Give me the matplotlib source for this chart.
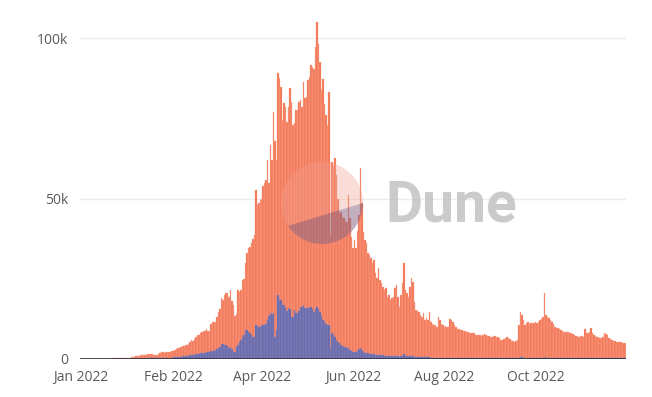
import numpy as np
import matplotlib.pyplot as plt
from matplotlib.patches import Circle, Polygon

plt.rcParams['font.family'] = ['Open Sans', 'DejaVu Sans']

# daily values in thousands, Dec 2021 .. Nov 2022
dec_total = [0.05, 0.05, 0.05, 0.05, 0.05, 0.05, 0.05, 0.05, 0.06, 0.06,
             0.07, 0.07, 0.08, 0.08, 0.08, 0.09, 0.09, 0.1, 0.1, 0.1,
             0.15, 0.15, 0.2, 0.2, 0.2, 0.25, 0.25, 0.25, 0.3, 0.3, 0.3]
jan_total = [0.35, 0.4, 0.45, 0.5, 0.6, 0.7, 0.9, 1.0, 1.0, 1.1,
             1.2, 1.2, 1.3, 1.4, 1.5, 1.5, 1.5, 1.5, 1.4, 1.4,
             1.4, 1.5, 2.0, 2.1, 2.1, 2.0, 2.1, 2.1, 2.2, 2.2, 2.4]
feb_total = [2.5, 2.8, 3.0, 3.3, 3.5, 3.8, 4.0, 4.2, 4.4, 4.5,
             4.6, 5.2, 5.9, 5.6, 6.2, 6.8, 7.4, 7.6, 8.0, 8.5,
             8.6, 8.7, 9.5, 8.8, 8.7, 11.0, 11.5, 11.6]
mar_total = [11.6, 13.0, 14.8, 15.5, 19.0, 18.5, 20.0, 20.5, 20.7, 19.4,
             21.5, 18.0, 16.8, 13.5, 14.0, 21.5, 21.0, 21.5, 24.6, 25.0,
             30.0, 33.0, 34.6, 35.0, 36.0, 37.5, 38.6, 52.6, 48.0, 48.5, 49.5]
apr_total = [50.0, 54.0, 55.0, 55.8, 62.0, 55.0, 66.7, 62.0, 77.0, 68.0,
             62.0, 89.0, 87.5, 84.8, 74.5, 79.7, 78.6, 74.0, 78.6, 84.4,
             80.0, 73.0, 73.5, 77.6, 77.6, 80.0, 80.7, 78.6, 86.4, 81.2]
may_total = [81.7, 86.9, 88.0, 91.6, 91.0, 90.5, 97.3, 105.0, 98.3, 92.6,
             83.8, 87.4, 79.6, 76.0, 73.0, 83.3, 38.6, 61.5, 60.0, 62.6,
             57.3, 50.0, 45.5, 45.9, 44.3, 43.9, 43.0, 42.8, 51.0, 43.9, 38.0]
jun_total = [34.5, 37.0, 34.6, 40.0, 44.9, 59.5, 48.6, 39.7, 37.0, 36.0,
             33.0, 32.4, 31.5, 29.9, 30.8, 26.8, 25.2, 28.3, 24.6, 23.6,
             22.5, 21.5, 22.0, 19.4, 19.9, 18.4, 18.9, 19.4, 22.0, 23.0]
jul_total = [19.4, 16.3, 20.0, 23.6, 29.9, 21.5, 20.5, 19.4, 22.5, 25.2,
             24.0, 17.9, 15.3, 15.0, 14.7, 13.7, 13.2, 14.2, 12.1, 12.7,
             12.1, 14.7, 11.6, 11.0, 10.6, 10.6, 10.0, 13.2, 12.1, 11.0, 10.5]
aug_total = [10.0, 10.2, 10.0, 10.0, 12.4, 12.0, 11.6, 10.6, 10.0, 9.2,
             9.2, 9.0, 9.0, 8.8, 8.8, 8.5, 8.3, 8.2, 8.0, 8.1,
             8.1, 7.6, 7.6, 7.5, 7.4, 7.3, 7.6, 7.8, 7.4, 7.2, 7.2]
sep_total = [7.0, 7.0, 7.2, 7.2, 6.9, 6.8, 6.6, 5.9, 6.0, 6.1,
             6.5, 7.0, 6.6, 6.1, 5.6, 5.5, 5.4, 5.5, 5.9, 10.6,
             14.7, 13.7, 12.0, 10.6, 11.1, 11.4, 10.8, 11.3, 11.1, 11.1]
oct_total = [11.4, 11.1, 11.6, 12.0, 12.4, 13.2, 20.5, 13.7, 13.2, 12.7,
             12.0, 11.6, 10.8, 10.0, 9.8, 9.6, 9.3, 9.0, 8.8, 8.5,
             8.4, 8.4, 8.3, 8.1, 8.0, 7.8, 7.5, 7.3, 7.2, 7.0, 7.1]
nov_total = [7.2, 7.0, 9.2, 8.2, 8.0, 8.5, 9.6, 8.0, 7.4, 7.2,
             7.0, 6.8, 6.6, 6.4, 6.9, 8.0, 7.8, 7.5, 6.5, 6.1,
             5.9, 5.7, 5.5, 5.2, 5.3, 5.4, 5.2, 5.1, 5.1, 5.0]

dec_blue = [0, 0, 0, 0, 0, 0, 0, 0, 0, 0,
            0, 0, 0, 0, 0, 0, 0, 0, 0, 0,
            0.02, 0.02, 0.03, 0.03, 0.03, 0.04, 0.04, 0.05, 0.05, 0.05, 0.06]
jan_blue = [0.06, 0.07, 0.08, 0.08, 0.09, 0.1, 0.1, 0.11, 0.12, 0.12,
            0.13, 0.14, 0.15, 0.15, 0.16, 0.17, 0.18, 0.18, 0.19, 0.2,
            0.2, 0.22, 0.3, 0.32, 0.33, 0.34, 0.35, 0.37, 0.38, 0.4, 0.45]
feb_blue = [0.5, 0.55, 0.6, 0.65, 0.7, 0.7, 0.8, 0.9, 0.95, 1.0,
            1.05, 1.1, 1.15, 1.2, 1.3, 1.5, 1.6, 1.7, 1.8, 1.9,
            2.0, 2.0, 2.1, 2.3, 2.3, 2.4, 2.5, 2.6]
mar_blue = [2.8, 3.0, 3.4, 3.8, 4.6, 4.8, 4.4, 4.3, 4.2, 3.4,
            3.8, 3.0, 2.3, 2.3, 3.8, 4.5, 5.4, 6.0, 7.0, 7.5,
            9.0, 9.0, 8.5, 8.0, 7.5, 7.0, 7.0, 10.6, 10.3, 10.0, 10.0]
apr_blue = [10.6, 10.6, 10.6, 10.8, 12.0, 13.5, 14.3, 14.0, 14.3, 7.0,
            9.0, 20.0, 18.4, 18.4, 16.8, 16.8, 15.9, 15.0, 15.9, 15.5,
            13.2, 13.2, 15.3, 14.3, 14.3, 15.0, 16.3, 16.3, 16.8, 16.0]
may_blue = [15.9, 16.0, 16.3, 16.3, 15.5, 14.7, 15.5, 16.3, 15.5, 14.7,
            13.5, 12.1, 11.5, 11.0, 10.6, 10.6, 3.4, 8.0, 7.5, 7.0,
            6.0, 5.4, 5.0, 4.4, 4.2, 3.8, 3.6, 3.4, 3.4, 2.8, 2.6]
jun_blue = [2.3, 2.3, 2.2, 2.5, 3.0, 3.3, 2.8, 2.2, 2.0, 1.9,
            1.8, 1.7, 1.6, 1.5, 1.5, 1.4, 1.3, 1.3, 1.2, 1.2,
            1.1, 1.0, 1.0, 0.9, 0.9, 0.9, 0.8, 0.8, 0.9, 0.9]
jul_blue = [0.8, 0.7, 0.8, 1.0, 1.5, 1.0, 0.9, 0.8, 0.8, 0.9,
            0.8, 0.7, 0.6, 0.6, 0.6, 0.55, 0.55, 0.5, 0.5, 0.5,
            0.5, 0.5, 0.45, 0.45, 0.45, 0.45, 0.4, 0.45, 0.4, 0.4, 0.4]
aug_blue = [0.4, 0.4, 0.4, 0.4, 0.45, 0.45, 0.4, 0.4, 0.38, 0.38,
            0.36, 0.36, 0.35, 0.35, 0.35, 0.34, 0.34, 0.33, 0.33, 0.32,
            0.32, 0.32, 0.31, 0.31, 0.3, 0.3, 0.3, 0.3, 0.3, 0.3, 0.3]
sep_blue = [0.3, 0.3, 0.3, 0.3, 0.28, 0.28, 0.28, 0.27, 0.27, 0.27,
            0.28, 0.3, 0.28, 0.27, 0.26, 0.26, 0.25, 0.26, 0.27, 0.45,
            0.6, 0.55, 0.45, 0.4, 0.4, 0.4, 0.4, 0.4, 0.4, 0.4]
oct_blue = [0.4, 0.4, 0.4, 0.42, 0.42, 0.45, 0.6, 0.45, 0.42, 0.42,
            0.4, 0.4, 0.38, 0.36, 0.35, 0.35, 0.34, 0.34, 0.33, 0.33,
            0.32, 0.32, 0.32, 0.31, 0.31, 0.3, 0.3, 0.3, 0.3, 0.3, 0.3]
nov_blue = [0.3, 0.3, 0.45, 0.4, 0.38, 0.4, 0.45, 0.38, 0.35, 0.33,
            0.32, 0.32, 0.31, 0.3, 0.32, 0.35, 0.34, 0.33, 0.3, 0.29,
            0.28, 0.28, 0.27, 0.26, 0.26, 0.26, 0.25, 0.25, 0.25, 0.25]

tick_days = [0, 62, 121, 182, 243, 304]
tick_labels = ['Jan 2022', 'Feb 2022', 'Apr 2022', 'Jun 2022', 'Aug 2022', 'Oct 2022']
y_ticks = [0, 50, 100]
y_labels = ['0', '50k', '100k']

total_k = (dec_total + jan_total + feb_total + mar_total + apr_total + may_total
           + jun_total + jul_total + aug_total + sep_total + oct_total + nov_total)
blue_k = (dec_blue + jan_blue + feb_blue + mar_blue + apr_blue + may_blue
          + jun_blue + jul_blue + aug_blue + sep_blue + oct_blue + nov_blue)
days = np.arange(len(total_k))

ORANGE = '#f4704f'
BLUE = '#6565a8'
TXT = '#5a5a5a'

W, H = 652, 397
fig = plt.figure(figsize=(W / 100, H / 100), dpi=100)
ax = fig.add_axes([80 / W, 38 / H, 546 / W, 353 / H])

# thin light edges give the soft separators between daily bars
ax.bar(days, total_k, width=1.0, color=ORANGE, edgecolor='#f9b09c',
       linewidth=0.25, zorder=2)
ax.bar(days, blue_k, width=1.0, color=BLUE, edgecolor='#8f8fc4',
       linewidth=0.25, zorder=3)

ax.set_xlim(-0.5, len(days) - 0.5)
ax.set_ylim(0, 110)
for yv in y_ticks[1:]:
    ax.axhline(yv, color='#ececec', lw=1, zorder=1)
ax.axhline(0, color='#2e2e3e', lw=1.2, zorder=4)

ax.set_yticks(y_ticks)
ax.set_yticklabels(y_labels)
ax.set_xticks(tick_days)
ax.set_xticklabels(tick_labels)
ax.tick_params(axis='both', length=0, labelsize=10, colors=TXT)
ax.tick_params(axis='y', pad=8.5)
ax.tick_params(axis='x', pad=8)
for s in ax.spines.values():
    s.set_visible(False)

# Dune watermark
wm = fig.add_axes([0, 0, 1, 1], zorder=5)
wm.set_xlim(0, W)
wm.set_ylim(H, 0)
wm.axis('off')
wm.patch.set_alpha(0)
cx, cy, r = 322, 203, 41
wm.add_patch(Circle((cx, cy), r, color='#f2a090', alpha=0.35, lw=0))
t = np.radians(np.linspace(0, 146, 60))
arc = np.column_stack([cx + r * np.cos(t), cy + r * np.sin(t)])
wm.add_patch(Polygon(arc, closed=True, color='#1e2a78', alpha=0.25, lw=0))
wm.text(385, 222, 'Dune', fontsize=41, fontweight='bold', color='#c6c6c6',
        family=['Roboto', 'DejaVu Sans'], ha='left', va='baseline', alpha=0.9)

fig.savefig('out.png', dpi=100)
